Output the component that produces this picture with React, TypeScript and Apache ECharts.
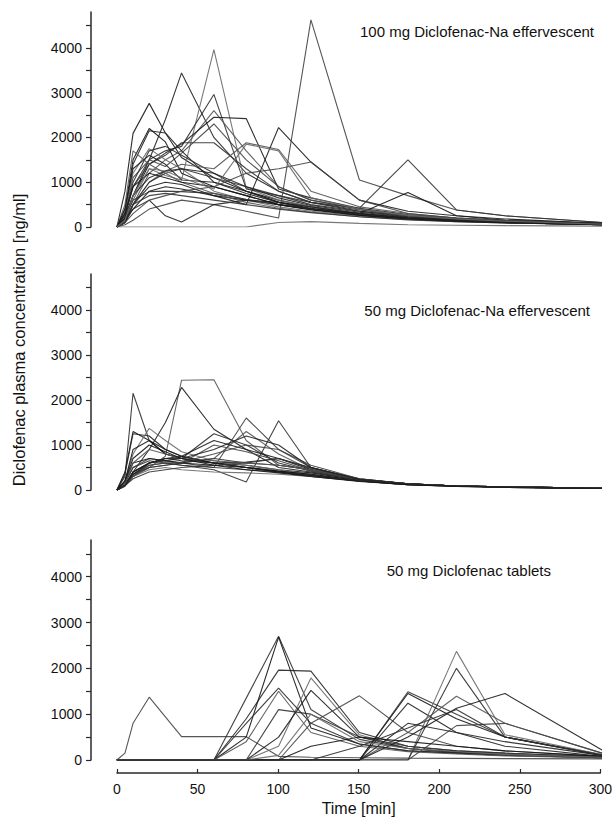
import React, { useEffect, useRef } from "react";
import * as echarts from "echarts";

// Sampling times [min]
const TIMES = [0, 5, 10, 20, 30, 40, 60, 80, 100, 120, 150, 180, 210, 240, 300];
const X_TICKS = [0, 50, 100, 150, 200, 250, 300];
const Y_LABELS = [0, 1000, 2000, 3000, 4000];
const Y_TICKS = [0, 500, 1000, 1500, 2000, 2500, 3000, 3500, 4000, 4500];

const PANEL_TITLES = [
  "100 mg Diclofenac-Na effervescent",
  "50 mg Diclofenac-Na effervescent",
  "50 mg Diclofenac tablets",
];
const Y_NAME = "Diclofenac plasma concentration [ng/ml]";
const X_NAME = "Time [min]";

// 100 mg Diclofenac-Na effervescent, one row per subject (ng/ml)
const EFF100 = [
  [0, 800, 2090, 2760, 2100, 1550, 1100, 800, 600, 450, 300, 200, 150, 120, 60],
  [0, 200, 700, 1500, 2400, 3440, 2000, 1200, 800, 550, 350, 250, 180, 130, 70],
  [0, 150, 600, 1300, 1150, 1050, 3960, 870, 600, 450, 300, 200, 150, 110, 60],
  [0, 300, 900, 1500, 1700, 1800, 2960, 850, 700, 500, 350, 230, 170, 120, 60],
  [0, 100, 500, 1200, 1500, 1700, 2600, 1700, 900, 600, 400, 250, 180, 130, 70],
  [0, 200, 700, 1400, 1650, 1850, 2450, 2420, 850, 650, 420, 280, 200, 140, 70],
  [0, 300, 1100, 1500, 1350, 1650, 2300, 1500, 900, 600, 400, 260, 190, 130, 70],
  [0, 200, 900, 1400, 1600, 1880, 1880, 1300, 800, 550, 380, 250, 180, 130, 70],
  [0, 400, 1500, 2200, 1900, 1200, 900, 700, 500, 400, 280, 200, 150, 110, 60],
  [0, 300, 1400, 2150, 2100, 1700, 1000, 750, 550, 400, 280, 190, 140, 100, 50],
  [0, 300, 1200, 1750, 1500, 1300, 800, 600, 450, 350, 250, 180, 130, 100, 50],
  [0, 250, 1000, 1700, 1800, 1600, 1200, 800, 550, 400, 270, 190, 140, 100, 50],
  [0, 100, 500, 1000, 1250, 1400, 1300, 1880, 1730, 800, 450, 300, 200, 150, 80],
  [0, 100, 500, 900, 1000, 950, 700, 500, 2220, 1450, 600, 350, 250, 150, 80],
  [0, 50, 150, 400, 500, 600, 500, 350, 200, 4626, 1050, 700, 380, 250, 100],
  [0, 100, 500, 1000, 1200, 1300, 1100, 900, 700, 550, 420, 1500, 380, 250, 100],
  [0, 100, 400, 800, 900, 850, 700, 600, 500, 400, 300, 770, 250, 180, 80],
  [0, 200, 400, 600, 250, 110, 500, 600, 550, 450, 300, 200, 150, 110, 60],
  [0, 0, 0, 0, 0, 0, 0, 0, 100, 120, 80, 50, 40, 30, 20],
  [0, 200, 600, 790, 800, 790, 750, 620, 500, 400, 280, 190, 140, 100, 50],
  [0, 500, 1700, 1400, 1200, 1000, 750, 550, 420, 330, 230, 170, 120, 90, 50],
  [0, 400, 1300, 1600, 1400, 1050, 1000, 800, 560, 420, 300, 200, 150, 100, 50],
  [0, 100, 300, 600, 700, 800, 900, 1200, 1300, 1450, 600, 300, 200, 150, 70],
  [0, 150, 500, 700, 750, 700, 600, 500, 400, 320, 230, 160, 120, 90, 50],
  [0, 300, 900, 1200, 1100, 1000, 900, 700, 500, 380, 260, 180, 130, 95, 50],
  [0, 200, 700, 1100, 1250, 1300, 1200, 900, 650, 480, 330, 220, 160, 120, 60],
  [0, 150, 700, 1300, 1250, 1100, 850, 1850, 1700, 650, 400, 260, 180, 130, 60],
];

// 50 mg Diclofenac-Na effervescent
const EFF50 = [
  [0, 300, 2150, 1100, 800, 700, 600, 500, 400, 300, 200, 120, 90, 70, 40],
  [0, 100, 300, 500, 750, 2440, 2450, 1100, 550, 450, 230, 130, 90, 70, 40],
  [0, 100, 400, 900, 1500, 2280, 1350, 900, 500, 400, 230, 130, 90, 70, 40],
  [0, 100, 300, 600, 650, 600, 500, 1600, 900, 500, 230, 140, 90, 70, 40],
  [0, 100, 350, 550, 600, 550, 450, 180, 1540, 500, 230, 140, 90, 70, 40],
  [0, 400, 1300, 1100, 800, 700, 600, 550, 450, 380, 220, 130, 90, 70, 40],
  [0, 350, 1250, 1200, 900, 750, 600, 500, 420, 350, 210, 130, 90, 70, 40],
  [0, 200, 800, 1370, 1100, 850, 650, 550, 450, 350, 210, 130, 90, 65, 40],
  [0, 100, 400, 600, 650, 700, 1250, 1000, 600, 420, 230, 140, 90, 70, 40],
  [0, 100, 300, 500, 550, 600, 700, 1300, 800, 450, 230, 130, 90, 65, 40],
  [0, 100, 400, 600, 700, 750, 1100, 900, 700, 450, 240, 140, 90, 70, 40],
  [0, 150, 500, 700, 650, 600, 1000, 850, 650, 430, 230, 130, 90, 65, 40],
  [0, 150, 500, 650, 600, 550, 500, 450, 400, 330, 200, 120, 85, 60, 35],
  [0, 200, 600, 700, 650, 600, 550, 500, 420, 350, 210, 130, 90, 65, 40],
  [0, 100, 400, 600, 700, 650, 600, 620, 700, 500, 250, 140, 90, 70, 40],
  [0, 80, 300, 450, 500, 450, 400, 380, 350, 300, 200, 120, 80, 60, 35],
  [0, 100, 350, 500, 550, 600, 700, 600, 550, 450, 240, 140, 90, 65, 40],
  [0, 150, 600, 900, 800, 700, 650, 600, 550, 450, 250, 140, 90, 70, 40],
  [0, 200, 900, 1100, 900, 750, 600, 500, 400, 320, 200, 120, 85, 60, 35],
  [0, 100, 300, 550, 600, 620, 800, 1000, 900, 550, 250, 140, 90, 70, 40],
  [0, 100, 250, 400, 450, 500, 550, 600, 700, 480, 240, 140, 90, 65, 40],
  [0, 200, 700, 1000, 850, 700, 550, 450, 380, 300, 190, 115, 80, 60, 35],
  [0, 100, 350, 600, 700, 700, 900, 1200, 1000, 500, 240, 140, 90, 65, 40],
];

// 50 mg Diclofenac tablets
const TAB50 = [
  [0, 150, 800, 1370, 940, 510, 510, 510, 80, 60, 50, 40, 35, 30, 25],
  [0, 0, 0, 0, 0, 0, 0, 1350, 2700, 1100, 450, 250, 160, 110, 50],
  [0, 0, 0, 0, 0, 0, 0, 500, 2680, 700, 350, 200, 150, 100, 50],
  [0, 0, 0, 0, 0, 0, 0, 900, 1960, 1940, 600, 300, 200, 150, 70],
  [0, 0, 0, 0, 0, 0, 0, 0, 300, 1790, 550, 250, 180, 120, 60],
  [0, 0, 0, 0, 0, 0, 0, 800, 1570, 800, 350, 200, 150, 100, 50],
  [0, 0, 0, 0, 0, 0, 0, 400, 1500, 600, 300, 180, 130, 90, 45],
  [0, 0, 0, 0, 0, 0, 0, 0, 500, 1520, 500, 250, 170, 120, 60],
  [0, 0, 0, 0, 0, 0, 0, 0, 0, 800, 1400, 600, 300, 200, 80],
  [0, 0, 0, 0, 0, 0, 0, 0, 0, 0, 0, 1490, 1000, 500, 100],
  [0, 0, 0, 0, 0, 0, 0, 0, 0, 0, 0, 1450, 900, 500, 120],
  [0, 0, 0, 0, 0, 0, 0, 0, 0, 0, 0, 1240, 600, 300, 80],
  [0, 0, 0, 0, 0, 0, 0, 0, 0, 0, 0, 0, 2370, 550, 120],
  [0, 0, 0, 0, 0, 0, 0, 0, 0, 0, 0, 0, 2000, 500, 100],
  [0, 0, 0, 0, 0, 0, 0, 0, 0, 0, 0, 600, 1390, 800, 150],
  [0, 0, 0, 0, 0, 0, 0, 0, 0, 0, 0, 500, 1130, 1450, 220],
  [0, 0, 0, 0, 0, 0, 0, 0, 0, 0, 0, 0, 750, 800, 150],
  [0, 0, 0, 0, 0, 0, 0, 0, 1100, 1000, 500, 300, 200, 150, 70],
  [0, 0, 0, 0, 0, 0, 0, 0, 0, 300, 500, 400, 300, 200, 80],
  [0, 0, 0, 0, 0, 0, 0, 0, 0, 0, 0, 800, 600, 400, 100],
  [0, 0, 0, 0, 0, 0, 0, 0, 100, 1000, 400, 250, 180, 120, 60],
  [0, 0, 0, 0, 0, 0, 0, 0, 0, 0, 300, 700, 1100, 500, 110],
];

const PANELS = [EFF100, EFF50, TAB50];

export default function App() {
  const ref = useRef<HTMLDivElement>(null);

  useEffect(() => {
    if (!ref.current) return;
    const chart = echarts.init(ref.current, null, { renderer: "svg" });
    const font = "'Liberation Sans', Arial, Helvetica, sans-serif";
    const textColor = "#111";
    const axisColor = "#2a2a2a";
    // x range starts before t=0 so that the y-axis sits left of the first sample
    const X_MIN = -16;
    const grids = [
      { left: 91, right: 13, top: 12, height: 215 },
      { left: 91, right: 13, top: 274, height: 216 },
      { left: 91, right: 13, top: 540, height: 220 },
      // separate strip that carries the time axis under the last panel
      { left: 117, right: 13, top: 760, height: 13 },
    ];
    const lineColors = ["#151515", "#2e2e2e", "#444", "#222", "#555", "#333", "#6a6a6a", "#1c1c1c"];

    const xAxes: any[] = [0, 1, 2].map((i) => ({
      type: "value",
      gridIndex: i,
      min: X_MIN,
      max: 300,
      show: false,
    }));
    xAxes.push({
      type: "value",
      gridIndex: 3,
      min: 0,
      max: 300,
      interval: 50,
      name: X_NAME,
      nameLocation: "middle",
      nameGap: 27,
      nameTextStyle: { fontFamily: font, fontSize: 16, color: textColor },
      axisLine: { show: true, onZero: false, lineStyle: { color: axisColor, width: 1.5 } },
      axisTick: { show: true, inside: true, length: 4, lineStyle: { color: axisColor, width: 1.2 } },
      axisLabel: {
        fontFamily: font,
        fontSize: 14,
        color: textColor,
        margin: 9,
        formatter: (v: number) => (X_TICKS.includes(v) ? String(v) : ""),
      },
      splitLine: { show: false },
    });

    const yAxes: any[] = [0, 1, 2].map((i) => ({
      type: "value",
      gridIndex: i,
      min: 0,
      max: 4800,
      axisLine: { show: true, onZero: false, lineStyle: { color: axisColor, width: 1.5 } },
      axisTick: {
        show: true,
        length: 5,
        customValues: Y_TICKS,
        lineStyle: { color: axisColor, width: 1.2 },
      },
      axisLabel: {
        fontFamily: font,
        fontSize: 14,
        color: textColor,
        margin: 9,
        customValues: Y_LABELS,
        formatter: (v: number) => String(v),
      },
      splitLine: { show: false },
    }));
    yAxes.push({ type: "value", gridIndex: 3, min: 0, max: 1, show: false });

    const series: any[] = [];
    PANELS.forEach((panel, pi) => {
      panel.forEach((vals, si) => {
        series.push({
          type: "line",
          xAxisIndex: pi,
          yAxisIndex: pi,
          data: TIMES.map((t, k) => [t, vals[k]]),
          showSymbol: false,
          symbol: "none",
          silent: true,
          lineStyle: { width: 1.1, color: lineColors[(si * 3 + pi) % lineColors.length], opacity: 0.9 },
        });
      });
    });

    const titlePos = [
      { x: 594, y: 31 },
      { x: 590, y: 310 },
      { x: 551, y: 570 },
    ];

    const graphic: any[] = PANEL_TITLES.map((t, i) => ({
      type: "text",
      x: titlePos[i].x,
      y: titlePos[i].y,
      style: {
        text: t,
        fontFamily: font,
        fontSize: 15,
        fill: textColor,
        textAlign: "right",
        textVerticalAlign: "middle",
      },
    }));
    graphic.push({
      type: "text",
      x: 19,
      y: 340,
      rotation: Math.PI / 2,
      style: {
        text: Y_NAME,
        fontFamily: font,
        fontSize: 16.5,
        fill: textColor,
        textAlign: "center",
        textVerticalAlign: "middle",
      },
    });

    chart.setOption({
      animation: false,
      backgroundColor: "#fff",
      grid: grids,
      xAxis: xAxes,
      yAxis: yAxes,
      series,
      graphic,
    });
    return () => chart.dispose();
  }, []);

  return (
    <div
      ref={ref}
      style={{ position: "absolute", left: 0, top: 0, width: 615, height: 818 }}
    />
  );
}
